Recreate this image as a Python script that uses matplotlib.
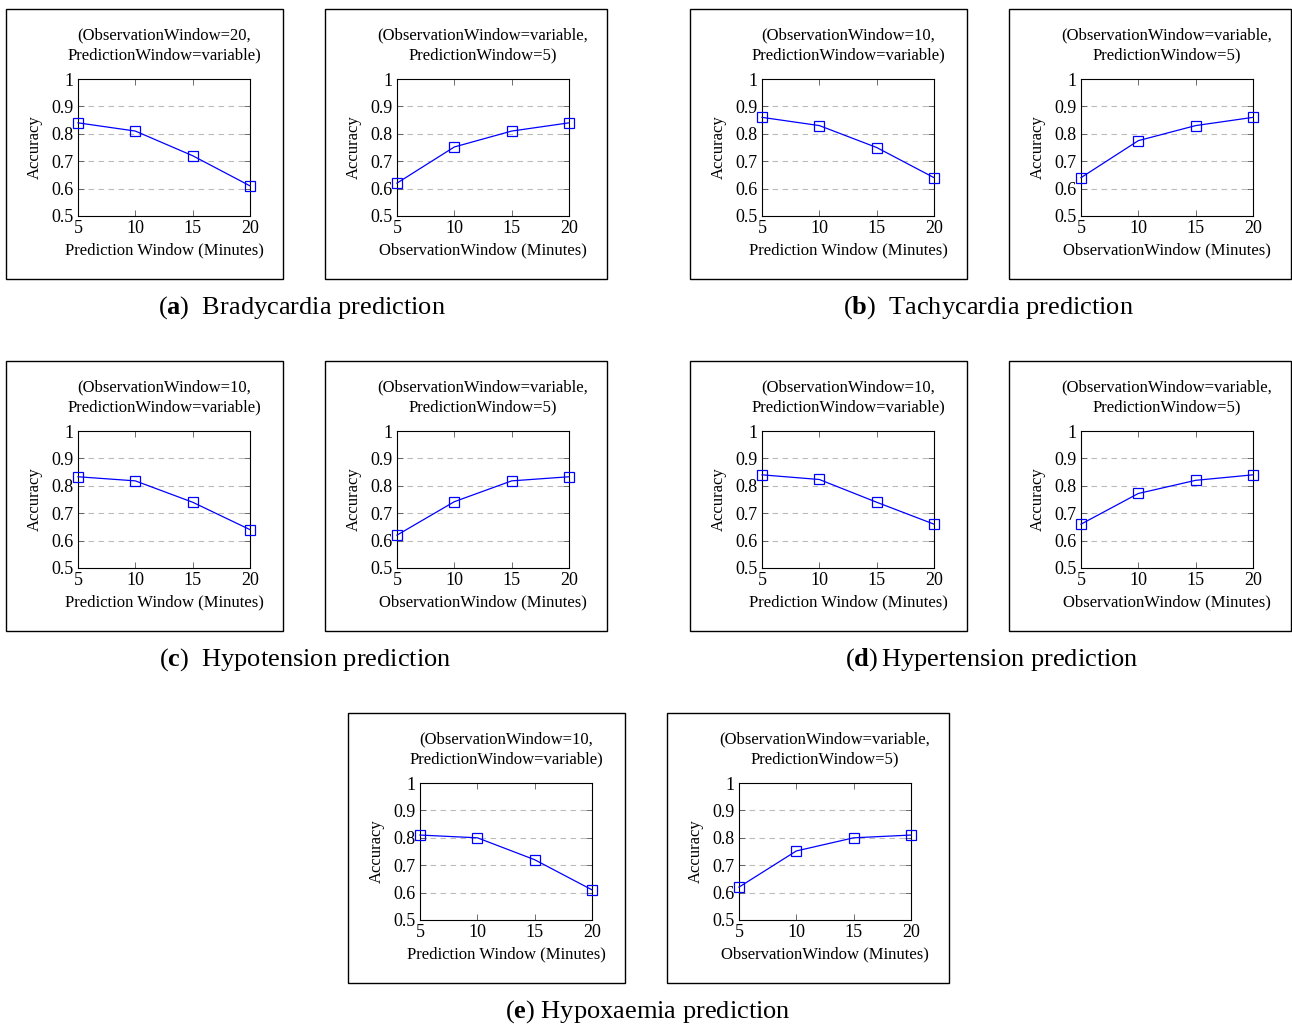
import matplotlib
matplotlib.use("Agg")
import matplotlib.pyplot as plt
from matplotlib.patches import Rectangle

plt.rcParams['font.family'] = ['Liberation Serif', 'DejaVu Serif']
plt.rcParams['mathtext.fontset'] = 'custom'
plt.rcParams['mathtext.rm'] = 'Liberation Serif'
plt.rcParams['mathtext.bf'] = 'Liberation Serif:bold'

# data
windows = [5, 10, 15, 20]
yticks = [0.5, 0.6, 0.7, 0.8, 0.9, 1.0]
ytick_labels = ['0.5', '0.6', '0.7', '0.8', '0.9', '1']

brady_pred = [0.84, 0.81, 0.72, 0.61]
brady_obs = [0.62, 0.752, 0.81, 0.84]
tachy_pred = [0.86, 0.83, 0.75, 0.64]
tachy_obs = [0.64, 0.775, 0.83, 0.86]
hypot_pred = [0.833, 0.818, 0.74, 0.64]
hypot_obs = [0.62, 0.742, 0.818, 0.833]
hypert_pred = [0.84, 0.823, 0.74, 0.66]
hypert_obs = [0.66, 0.772, 0.82, 0.84]
hypox_pred = [0.81, 0.80, 0.72, 0.61]
hypox_obs = [0.62, 0.752, 0.80, 0.81]

obs_fixed = ['20', '10', '10', '10', '10']
captions = ['Bradycardia prediction', 'Tachycardia prediction', 'Hypotension prediction',
            'Hypertension prediction', 'Hypoxaemia prediction']
letters = ['a', 'b', 'c', 'd', 'e']
gaps = ['  ', '  ', '  ', r'$\,$', ' ']

W, H = 1292, 1027
fig = plt.figure(figsize=(W / 100, H / 100), dpi=100)


def box(x0, y0, x1, y1):
    return [x0 / W, 1 - y1 / H, (x1 - x0) / W, (y1 - y0) / H]


def panel(ax_px, frame_px, values, title, xlabel):
    x0, y0, x1, y1 = ax_px
    fig.patches.append(Rectangle((frame_px[0] / W, 1 - frame_px[3] / H),
                                 (frame_px[2] - frame_px[0]) / W,
                                 (frame_px[3] - frame_px[1]) / H,
                                 transform=fig.transFigure, fill=False,
                                 edgecolor='black', linewidth=1.0))
    ax = fig.add_axes(box(x0, y0, x1, y1))
    ax.plot(windows, values, color='blue', linewidth=0.9, marker='s', markersize=6.5,
            markerfacecolor='none', markeredgecolor='blue', markeredgewidth=0.9,
            clip_on=False, zorder=3)
    ax.set_xlim(5, 20)
    ax.set_ylim(0.5, 1.0)
    ax.set_xticks(windows)
    ax.set_yticks(yticks)
    ax.set_yticklabels(ytick_labels)
    ax.tick_params(direction='in', top=True, right=True, length=4, width=0.6,
                   labelsize=13, color='#555555')
    ax.tick_params(axis='x', pad=3)
    ax.tick_params(axis='y', pad=3)
    for y in yticks[1:-1]:
        ax.axhline(y, color='#bbbbbb', linestyle=(0, (5, 4)), linewidth=0.8, zorder=1)
    for s in ax.spines.values():
        s.set_linewidth(0.8)
    ax.set_xlabel(xlabel, fontsize=12, labelpad=4)
    ax.set_ylabel('Accuracy', fontsize=12, labelpad=6)
    cx = (x0 + x1) / 2
    fig.text(cx / W, 1 - (y0 - 44) / H, title[0], ha='center', va='center', fontsize=12)
    fig.text(cx / W, 1 - (y0 - 24) / H, title[1], ha='center', va='center', fontsize=12)


pairs = [(brady_pred, brady_obs), (tachy_pred, tachy_obs), (hypot_pred, hypot_obs),
         (hypert_pred, hypert_obs), (hypox_pred, hypox_obs)]

# layout: (left frame x0, row top y) per group
groups = [(6, 9), (690, 9), (6, 361), (690, 361), (348, 713)]
cap_centers = [(302, 308), (988, 308), (305, 660), (992, 660), (648, 1012)]

for i, ((gx, gy), (pv, ov)) in enumerate(zip(groups, pairs)):
    fl = (gx, gy, gx + 277, gy + 270)
    fr = (gx + 319, gy, gx + 601, gy + 270)
    al = (gx + 72, gy + 70, gx + 244, gy + 207)
    ar = (gx + 391, gy + 70, gx + 563, gy + 207)
    panel(al, fl, pv, ['(ObservationWindow=%s,' % obs_fixed[i], 'PredictionWindow=variable)'],
          'Prediction Window (Minutes)')
    panel(ar, fr, ov, ['(ObservationWindow=variable,', 'PredictionWindow=5)'],
          'ObservationWindow (Minutes)')
    cx, cy = cap_centers[i]
    fig.text(cx / W, 1 - cy / H, r'($\mathbf{%s}$)%s%s' % (letters[i], gaps[i], captions[i]),
             ha='center', va='center', fontsize=19)

fig.savefig('out.png', dpi=100)
